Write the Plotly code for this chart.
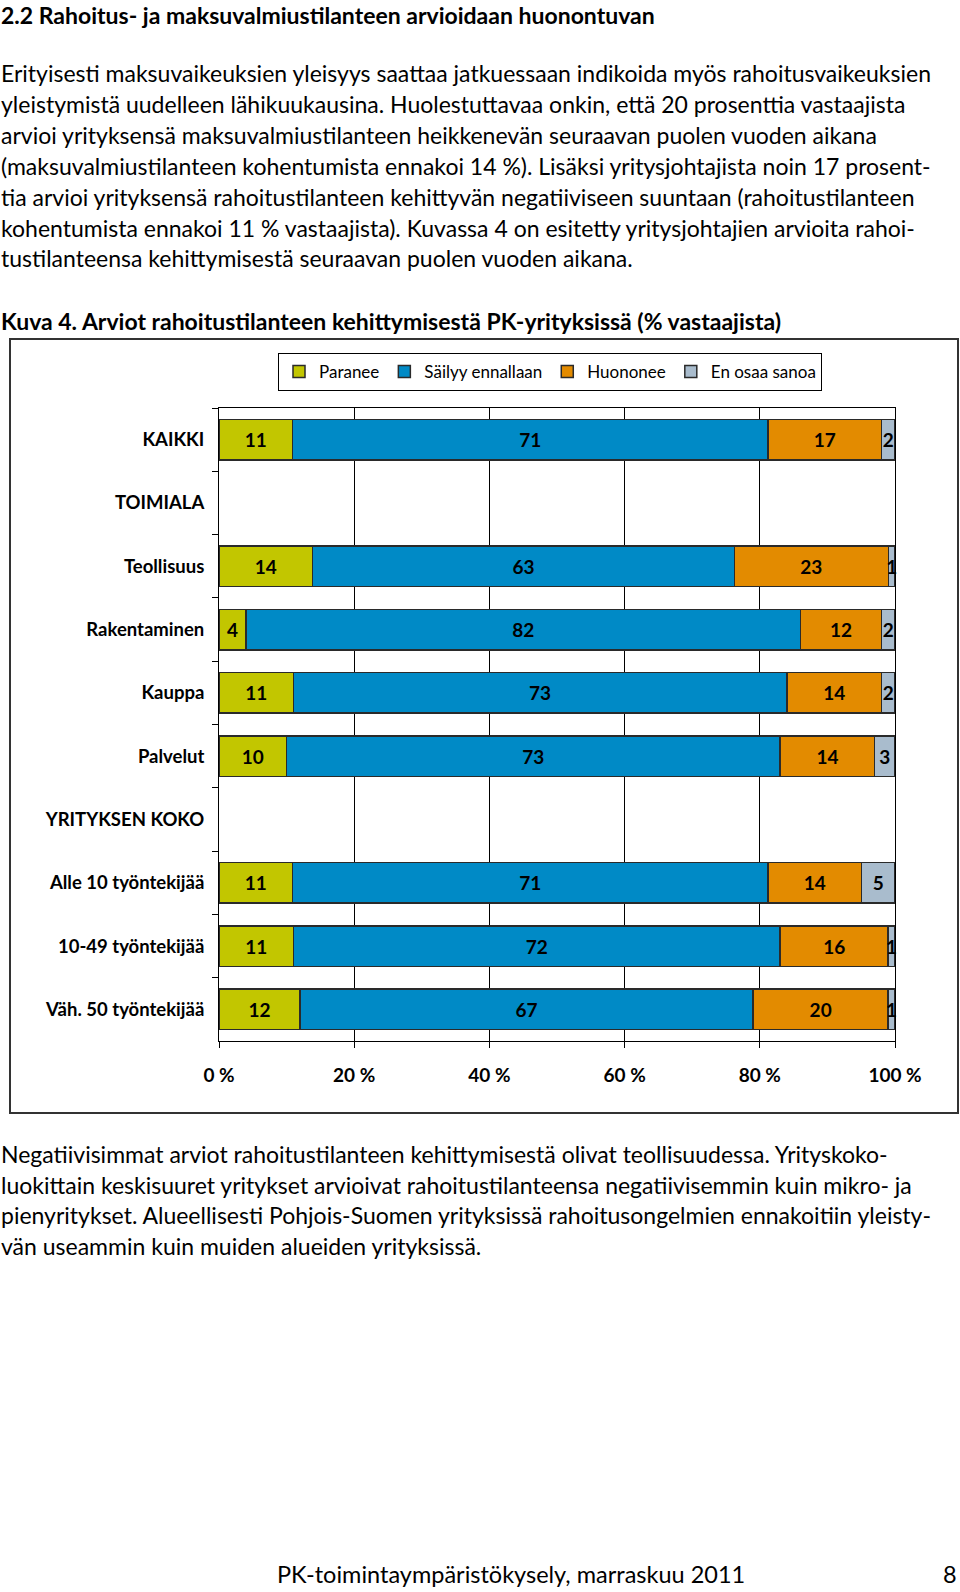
import plotly.graph_objects as go

W, H = 960, 1592

categories = ["KAIKKI", "TOIMIALA", "Teollisuus", "Rakentaminen", "Kauppa", "Palvelut",
              "YRITYKSEN KOKO", "Alle 10 työntekijää", "10-49 työntekijää", "Väh. 50 työntekijää"]
paranee = [11, None, 14, 4, 11, 10, None, 11, 11, 12]
sailyy = [71, None, 63, 82, 73, 73, None, 71, 72, 67]
huononee = [17, None, 23, 12, 14, 14, None, 14, 16, 20]
en_osaa = [2, None, 1, 2, 2, 3, None, 5, 1, 1]
series_names = ["Paranee", "Säilyy ennallaan", "Huononee", "En osaa sanoa"]
series_colors = ["#C2C600", "#008AC6", "#E38B00", "#A9BCCD"]
tick_vals = [0, 20, 40, 60, 80, 100]
tick_text = ["0 %", "20 %", "40 %", "60 %", "80 %", "100 %"]

title = "2.2 Rahoitus- ja maksuvalmiustilanteen arvioidaan huonontuvan"
para1 = [
    "Erityisesti maksuvaikeuksien yleisyys saattaa jatkuessaan indikoida myös rahoitusvaikeuksien",
    "yleistymistä uudelleen lähikuukausina. Huolestuttavaa onkin, että 20 prosenttia vastaajista",
    "arvioi yrityksensä maksuvalmiustilanteen heikkenevän seuraavan puolen vuoden aikana",
    "(maksuvalmiustilanteen kohentumista ennakoi 14 %). Lisäksi yritysjohtajista noin 17 prosent-",
    "tia arvioi yrityksensä rahoitustilanteen kehittyvän negatiiviseen suuntaan (rahoitustilanteen",
    "kohentumista ennakoi 11 % vastaajista). Kuvassa 4 on esitetty yritysjohtajien arvioita rahoi-",
    "tustilanteensa kehittymisestä seuraavan puolen vuoden aikana.",
]
caption = "Kuva 4. Arviot rahoitustilanteen kehittymisestä PK-yrityksissä (% vastaajista)"
para2 = [
    "Negatiivisimmat arviot rahoitustilanteen kehittymisestä olivat teollisuudessa. Yrityskoko-",
    "luokittain keskisuuret yritykset arvioivat rahoitustilanteensa negatiivisemmin kuin mikro- ja",
    "pienyritykset. Alueellisesti Pohjois-Suomen yrityksissä rahoitusongelmien ennakoitiin yleisty-",
    "vän useammin kuin muiden alueiden yrityksissä.",
]
footer = "PK-toimintaympäristökysely, marraskuu 2011"
page_no = "8"

FONT = "Lato"


def px(x):
    return x / W


def py(y):
    return 1 - y / H


fig = go.Figure()
for name, vals, col in zip(series_names, [paranee, sailyy, huononee, en_osaa], series_colors):
    fig.add_trace(go.Bar(
        y=categories, x=vals, name=name, orientation="h",
        marker=dict(color=col, line=dict(color="#2a2a2a", width=1.5)),
        text=[("" if v is None else str(v)) for v in vals],
        texttemplate="%{text}", textposition="inside", insidetextanchor="middle",
        textangle=0, constraintext="none", cliponaxis=False,
        textfont=dict(family=FONT, size=19, color="black", weight="bold"),
        hoverinfo="skip",
    ))

fig.update_layout(
    width=W, height=H,
    barmode="stack", barnorm="percent", bargap=0.36,
    paper_bgcolor="white", plot_bgcolor="white",
    margin=dict(l=0, r=0, t=0, b=0, autoexpand=False),
    font=dict(family=FONT, color="black"),
    legend=dict(
        orientation="h", x=px(550), xanchor="center", y=py(353), yanchor="top",
        bordercolor="black", borderwidth=1, bgcolor="white",
        font=dict(family=FONT, size=17, color="black"),
        itemwidth=30, traceorder="normal",
    ),
    xaxis=dict(
        domain=[px(219), px(895)], range=[0, 100],
        tickvals=tick_vals, ticktext=tick_text,
        showgrid=True, gridcolor="black", gridwidth=1,
        showline=True, linecolor="black", linewidth=1, mirror=True,
        ticks="outside", ticklen=6, tickcolor="black",
        zeroline=False, ticklabelstandoff=11,
        tickfont=dict(family=FONT, size=19, color="black", weight="bold"),
    ),
    yaxis=dict(
        domain=[py(1041), py(408)], autorange="reversed",
        type="category", categoryorder="array", categoryarray=categories,
        showline=True, linecolor="black", linewidth=1, mirror=True,
        ticks="outside", ticklen=6, tickcolor="black", tickson="boundaries",
        showgrid=False, ticklabelstandoff=10,
        tickfont=dict(family=FONT, size=18.5, color="black", weight="bold"),
    ),
)

ann = []


def add_text(x, y, text, size, bold=False, anchor="left"):
    ann.append(dict(
        x=px(x), y=py(y), xref="paper", yref="paper", text=text, showarrow=False,
        xanchor=anchor, yanchor="middle", align=anchor, borderpad=0,
        font=dict(family=FONT, size=size, color="black", weight="bold" if bold else "normal"),
    ))


add_text(0, 15, title, 23, bold=True)
for i, line in enumerate(para1):
    add_text(0, 73 + i * 30.9, line, 23)
add_text(0, 321, caption, 23, bold=True)
for i, line in enumerate(para2):
    add_text(0, 1154 + i * 30.7, line, 23)
add_text(276, 1574, footer, 23.5)
add_text(958, 1574, page_no, 23.5, anchor="right")

fig.update_layout(annotations=ann)
fig.add_shape(type="rect", xref="paper", yref="paper",
              x0=px(10), x1=px(958), y0=py(1113), y1=py(339),
              line=dict(color="#333333", width=2), layer="below")

fig.write_html("out.html", config={"displayModeBar": False},
               post_script="document.body.style.margin='0px';document.body.style.overflow='hidden';")
